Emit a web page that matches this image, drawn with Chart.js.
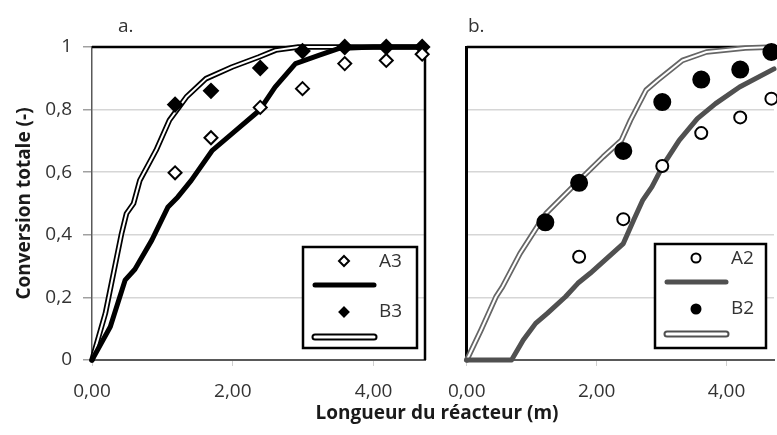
<!DOCTYPE html>
<html>
<head>
<meta charset="utf-8">
<script src="https://cdn.jsdelivr.net/npm/chart.js@4"></script>
<style>
  body { margin: 0; width: 777px; height: 435px; overflow: hidden; background: #fff; position: relative; font-family: "Open Sans", sans-serif; }
  canvas { position: absolute; top: 0; }
  #grapheA { left: 0; }
  #grapheB { left: 434px; }
  .panneau { position: absolute; top: 12px; font-size: 19px; color: #333; }
  #titreX { position: absolute; left: 237px; width: 400px; top: 399px; text-align: center; font-size: 19px; font-weight: bold; color: #1a1a1a; }
</style>
</head>
<body>
<canvas id="grapheA" width="434" height="435"></canvas>
<canvas id="grapheB" width="350" height="435"></canvas>
<div class="panneau" style="left:118px">a.</div>
<div class="panneau" style="left:468px">b.</div>
<div id="titreX">Longueur du réacteur (m)</div>
<script>
const xTicks = [0, 2, 4]
const yTicks = [0, 0.2, 0.4, 0.6, 0.8, 1]

// a. mesures A3 / B3
const xMesA = [1.18, 1.69, 2.39, 2.99, 3.59, 4.18, 4.69]
const mesA3 = [0.598, 0.71, 0.807, 0.867, 0.947, 0.957, 0.977]
const mesB3 = [0.816, 0.86, 0.933, 0.987, 1.0, 1.0, 1.0]

// a. modeles
const xModA3 = [0, 0.26, 0.47, 0.61, 0.85, 1.08, 1.22, 1.41, 1.71, 1.99, 2.38, 2.60, 2.89, 3.22, 3.50, 4.0, 4.73]
const modA3 = [0, 0.106, 0.255, 0.29, 0.383, 0.489, 0.521, 0.574, 0.67, 0.723, 0.798, 0.872, 0.947, 0.973, 0.995, 1.0, 1.0]
const xModB3 = [0, 0.19, 0.42, 0.49, 0.59, 0.68, 0.91, 1.10, 1.34, 1.62, 1.99, 2.37, 2.61, 2.93, 4.73]
const modB3 = [0, 0.149, 0.404, 0.468, 0.50, 0.574, 0.67, 0.766, 0.84, 0.899, 0.936, 0.968, 0.99, 1.0, 1.0]

// b. mesures A2 / B2
const xMesB = [1.21, 1.73, 2.41, 3.01, 3.61, 4.21, 4.69]
const mesA2 = [null, 0.33, 0.45, 0.62, 0.725, 0.775, 0.835]
const mesB2 = [0.44, 0.566, 0.668, 0.824, 0.896, 0.928, 0.984]

// b. modeles
const xModA2 = [0, 0.69, 0.87, 1.06, 1.24, 1.52, 1.71, 1.90, 2.41, 2.57, 2.71, 2.85, 3.04, 3.27, 3.55, 3.83, 4.20, 4.73]
const modA2 = [0, 0, 0.064, 0.117, 0.149, 0.202, 0.245, 0.277, 0.372, 0.447, 0.511, 0.553, 0.628, 0.702, 0.771, 0.819, 0.872, 0.93]
const xModB2 = [0, 0.22, 0.45, 0.55, 0.82, 1.15, 1.22, 1.73, 2.10, 2.38, 2.52, 2.76, 2.94, 3.32, 3.69, 4.29, 4.73]
const modB2 = [0, 0.096, 0.202, 0.234, 0.34, 0.447, 0.468, 0.574, 0.649, 0.702, 0.766, 0.862, 0.894, 0.957, 0.984, 0.997, 1.0]

const police = { family: '"Open Sans", sans-serif', size: 19 }
const gris = '#595959'

function pts(xs, ys) {
  return xs.map((x, i) => ({ x: x, y: ys[i] })).filter(p => p.y !== null)
}

function mesure(data, style, r, plein) {
  return {
    data: data, showLine: false, pointStyle: style, pointRadius: r,
    pointBackgroundColor: plein ? '#000' : '#fff', pointBorderColor: '#000',
    pointBorderWidth: 2, clip: false, order: 0
  }
}

function modele(data, couleur, largeur, ordre) {
  return {
    data: data, showLine: true, borderColor: couleur, borderWidth: largeur,
    pointRadius: 0, borderJoinStyle: 'round', borderCapStyle: 'round',
    clip: false, order: ordre
  }
}

// cadre noir (haut, et cote)
function cadre(droite) {
  return {
    id: 'cadre',
    beforeDatasetsDraw(chart) {
      const { ctx, chartArea: a } = chart
      ctx.save()
      ctx.strokeStyle = '#000'
      ctx.lineWidth = 2.5
      ctx.beginPath()
      ctx.moveTo(a.left, a.top)
      ctx.lineTo(a.right, a.top)
      if (droite) {
        ctx.moveTo(a.right, a.top)
        ctx.lineTo(a.right, a.bottom)
      }
      ctx.stroke()
      ctx.restore()
    }
  }
}

function marqueur(ctx, forme, x, y, r, plein) {
  ctx.beginPath()
  if (forme === 'rectRot') {
    ctx.moveTo(x, y - r); ctx.lineTo(x + r, y); ctx.lineTo(x, y + r); ctx.lineTo(x - r, y); ctx.closePath()
  } else {
    ctx.arc(x, y, r, 0, Math.PI * 2)
  }
  ctx.fillStyle = plein ? '#000' : '#fff'
  ctx.fill()
  ctx.lineWidth = 2
  ctx.strokeStyle = '#000'
  ctx.stroke()
}

function trait(ctx, x1, x2, y, couleur, double) {
  ctx.lineCap = 'round'
  ctx.beginPath(); ctx.moveTo(x1, y); ctx.lineTo(x2, y)
  ctx.strokeStyle = couleur; ctx.lineWidth = double ? 7 : 5; ctx.stroke()
  if (double) {
    ctx.beginPath(); ctx.moveTo(x1, y); ctx.lineTo(x2, y)
    ctx.strokeStyle = '#fff'; ctx.lineWidth = 3; ctx.stroke()
  }
}

function legende(box, forme, noms, couleur) {
  return {
    id: 'legende',
    afterDraw(chart) {
      const ctx = chart.ctx
      const [bx, by, bw, bh] = box
      ctx.save()
      ctx.fillStyle = '#fff'
      ctx.fillRect(bx, by, bw, bh)
      ctx.strokeStyle = '#000'
      ctx.lineWidth = 2.5
      ctx.strokeRect(bx, by, bw, bh)
      const mx = bx + 41, x1 = bx + 12, x2 = bx + 71, tx = bx + 76
      marqueur(ctx, forme, mx, by + 14, forme === 'rectRot' ? 5 : 4.5, false)
      trait(ctx, x1, x2, by + 38, couleur, false)
      marqueur(ctx, forme, mx, by + 65, 4.5, true)
      trait(ctx, x1, x2, by + 90, couleur, true)
      ctx.fillStyle = '#333'
      ctx.font = '19px "Open Sans", sans-serif'
      ctx.textBaseline = 'middle'
      ctx.fillText(noms[0], tx, by + 15)
      ctx.fillText(noms[1], tx, by + 65)
      ctx.restore()
    }
  }
}

function echelles(gauche) {
  return {
    x: {
      type: 'linear', min: 0, max: 4.73,
      afterBuildTicks: s => { s.ticks = xTicks.map(v => ({ value: v })) },
      afterFit: s => { s.height = 75 },
      ticks: { font: police, color: '#333', padding: 14, maxRotation: 0,
               callback: v => v.toFixed(2).replace('.', ',') },
      grid: { drawOnChartArea: false, tickLength: 6, tickColor: '#cfcfcf' },
      border: { color: gris, width: 2 }
    },
    y: {
      min: 0, max: 1,
      afterBuildTicks: s => { s.ticks = yTicks.map(v => ({ value: v })) },
      afterFit: s => { s.width = gauche ? 92 : 5 },
      ticks: { display: gauche, font: police, color: '#333', padding: 11,
               callback: v => String(v).replace('.', ',') },
      grid: { color: '#d6d6d6', lineWidth: 1.5, drawTicks: gauche, tickLength: 9, tickColor: '#a0a0a0' },
      border: { color: gauche ? gris : '#000', width: gauche ? 1.5 : 3 },
      title: { display: gauche, text: 'Conversion totale (-)', color: '#1a1a1a',
               font: { family: police.family, size: 19, weight: 'bold' }, padding: { top: 13, bottom: 0 } }
    }
  }
}

const communs = {
  responsive: false,
  animation: false,
  plugins: { legend: { display: false }, tooltip: { enabled: false } }
}

new Chart(document.querySelector('#grapheA'), {
  type: 'scatter',
  data: {
    datasets: [
      mesure(pts(xMesA, mesA3), 'rectRot', 6.5, false),
      mesure(pts(xMesA, mesB3), 'rectRot', 7, true),
      modele(pts(xModA3, modA3), '#000', 5, 2),
      modele(pts(xModB3, modB3), '#000', 5.5, 3),
      modele(pts(xModB3, modB3), '#fff', 2, 2)
    ]
  },
  options: Object.assign({}, communs, {
    layout: { padding: { top: 47, right: 6, left: 0, bottom: 0 } },
    scales: echelles(true)
  }),
  plugins: [cadre(true), legende([303, 247, 114, 101], 'rectRot', ['A3', 'B3'], '#000')]
})

new Chart(document.querySelector('#grapheB'), {
  type: 'scatter',
  data: {
    datasets: [
      mesure(pts(xMesB, mesA2), 'circle', 6, false),
      mesure(pts(xMesB, mesB2), 'circle', 8, true),
      modele(pts(xModA2, modA2), '#505050', 5, 2),
      modele(pts(xModB2, modB2), '#666', 5.5, 3),
      modele(pts(xModB2, modB2), '#fff', 2, 2)
    ]
  },
  options: Object.assign({}, communs, {
    layout: { padding: { top: 47, right: 6.5, left: 0, bottom: 0 } },
    scales: echelles(false)
  }),
  plugins: [cadre(false), legende([221, 244, 111, 104], 'circle', ['A2', 'B2'], '#505050')]
})
</script>
</body>
</html>
